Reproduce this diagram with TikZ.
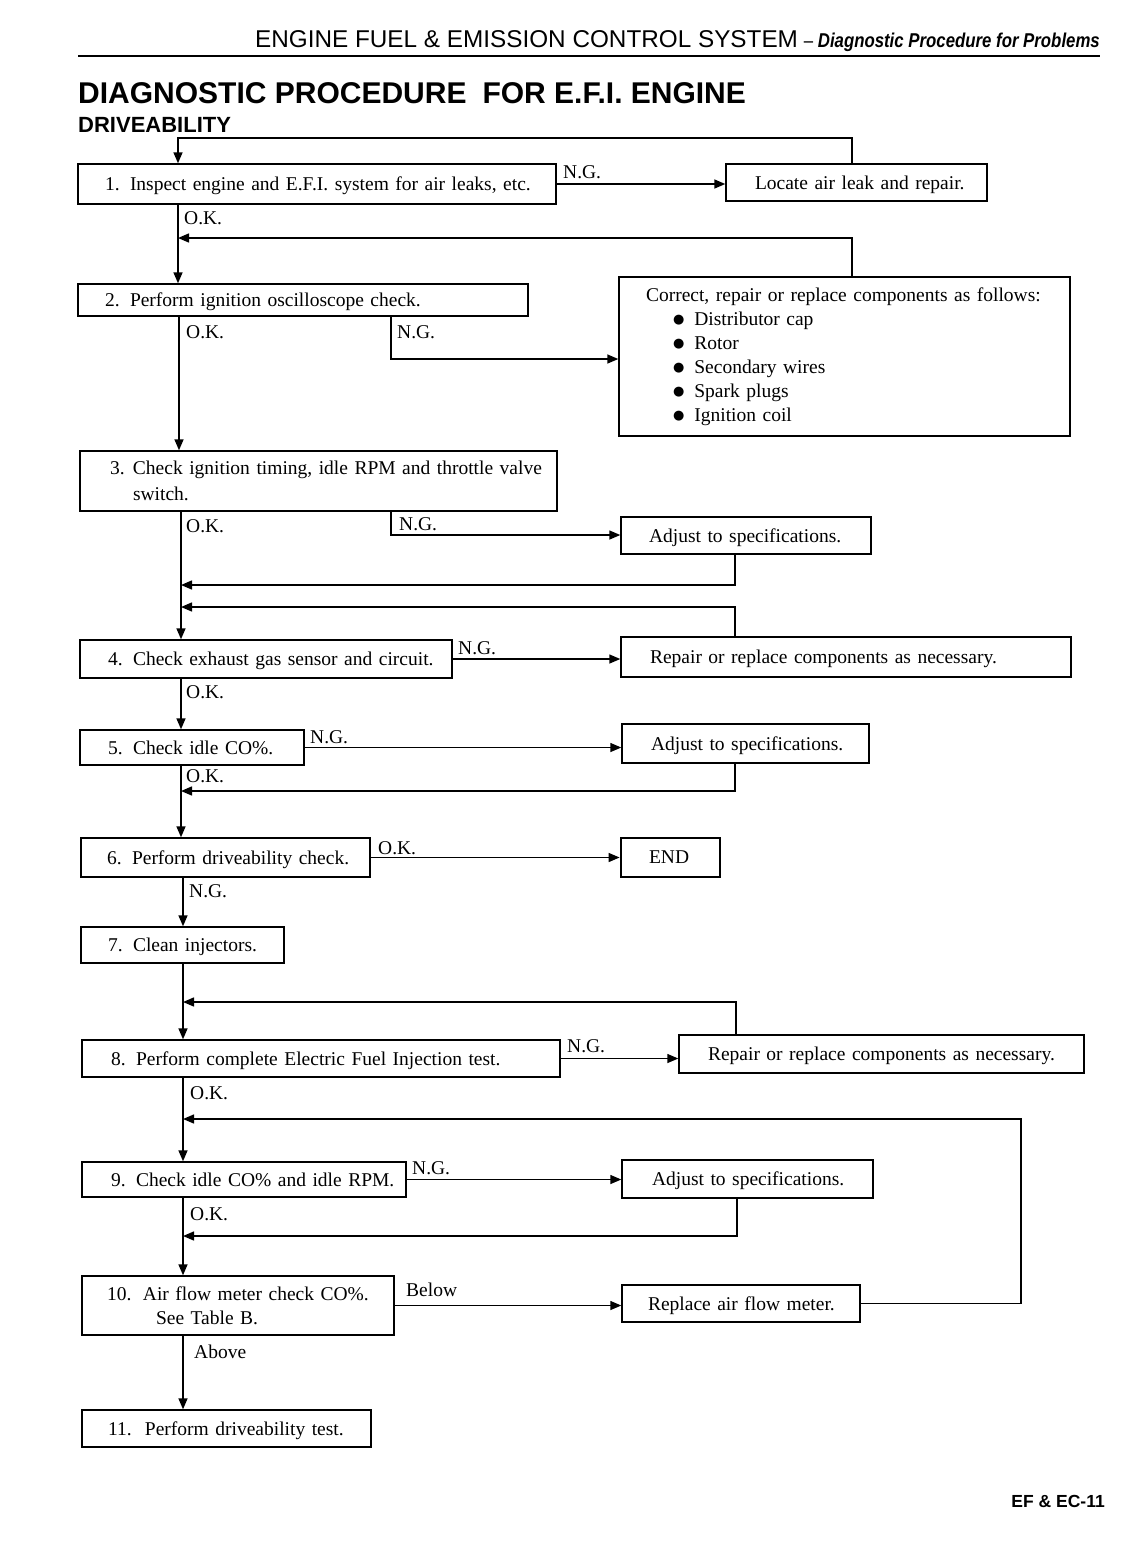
\documentclass[tikz,border=0pt]{standalone}
\usepackage{fontspec}
\setmainfont{Liberation Serif}
\newfontfamily\hsans{Liberation Sans}
\newfontfamily\djv{DejaVu Sans}
\usetikzlibrary{arrows.meta}
\newcommand\mybox[7][27]{%
  \pgfmathsetmacro\mbW{#5-#3}%
  \pgfmathsetmacro\mbH{#6-#4}%
  \pgfmathsetmacro\mbT{#5-#3-2*#1}%
  \node[box, minimum width=\mbW pt, minimum height=\mbH pt, text width=\mbT pt] (#2) at ({(#3+#5)/2},{(#4+#6)/2}) {#7};}
\newcommand\blt{\hspace*{27pt}\raisebox{1.5pt}{\djv\fontsize{13}{24}\selectfont ●}\hspace{10pt}}
\newcommand\num[2][25pt]{\makebox[#1][l]{#2}}
\begin{document}
\begin{tikzpicture}[x=1pt,y=-1pt,
  boxextra/.style={},
  box/.style={draw, line width=1.4pt, inner xsep=0pt, inner ysep=1pt, align=left,
    text depth=0pt, font=\fontsize{19.5}{25}\selectfont, boxextra},
  multi/.style={box/.append style={text depth=, font=\fontsize{19.5}{24}\selectfont}},
  lbl/.style={anchor=west, inner sep=0pt, font=\fontsize{19.5}{24}\selectfont},
  arr/.style={line width=1.4pt, -{Triangle[length=11pt,width=9pt]}}]
\useasboundingbox (0,0) rectangle (1147,1553);
% header
\node[anchor=base west, inner sep=0pt, font=\hsans\fontsize{24.3}{24}\selectfont] (hdr) at (255,47) {ENGINE FUEL \& EMISSION CONTROL SYSTEM};
\node[anchor=base east, inner sep=0pt, font=\hsans\fontsize{20}{20}\selectfont\bfseries\itshape] (hdr2) at (1100,47) {\scalebox{0.84}[1]{{\upshape\mdseries\textendash}\ Diagnostic Procedure for Problems}};
\draw[line width=2pt] (78,56) -- (1100,56);
\node[anchor=base west, inner sep=0pt, font=\hsans\bfseries\fontsize{30}{30}\selectfont] (ttl) at (78,103) {DIAGNOSTIC PROCEDURE\hspace{16pt}FOR E.F.I. ENGINE};
\node[anchor=base west, inner sep=0pt, font=\hsans\bfseries\fontsize{22}{22}\selectfont] (sub) at (78,132) {DRIVEABILITY};
\node[anchor=base east, inner sep=0pt, font=\hsans\bfseries\fontsize{17.5}{18}\selectfont] (foot) at (1105,1507) {EF \& EC-11};
% boxes
\mybox[27]{b1}{78}{164}{556}{204}{\mbox{\num{1.}Inspect engine and E.F.I. system for air leaks, etc.}}
\mybox[29]{loc}{726}{164}{987}{201}{\mbox{Locate air leak and repair.}}
\mybox[27]{b2}{78}{284}{528}{316}{\mbox{\num{2.}Perform ignition oscilloscope check.}}
\begin{scope}[multi]
\mybox[27]{cor}{619}{277}{1070}{436}{\mbox{Correct, repair or replace components as follows:}\\
\mbox{\blt Distributor cap}\\ \mbox{\blt Rotor}\\ \mbox{\blt Secondary wires}\\ \mbox{\blt Spark plugs}\\ \mbox{\blt Ignition coil}}
\mybox[30]{b3}{80}{451}{557}{511}{\mbox{\num[23pt]{3.}Check ignition timing, idle RPM and throttle valve}\\[2pt]\mbox{\hspace*{23pt}switch.}}
\end{scope}
\mybox[28]{adj1}{621}{517}{871}{554}{\mbox{Adjust to specifications.}}
\mybox[28]{b4}{80}{640}{452}{678}{\mbox{\num{4.}Check exhaust gas sensor and circuit.}}
\mybox[29]{rep1}{621}{637}{1071}{677}{\mbox{Repair or replace components as necessary.}}
\mybox[28]{b5}{80}{730}{304}{765}{\mbox{\num{5.}Check idle CO\%.}}
\mybox[29]{adj2}{622}{724}{869}{763}{\mbox{Adjust to specifications.}}
\mybox[26]{b6}{81}{838}{370}{877}{\mbox{\num{6.}Perform driveability check.}}
\begin{scope}[boxextra/.style={line width=2.8pt}]
\mybox[28]{endn}{621}{838}{720}{877}{\mbox{END}}
\end{scope}
\mybox[27]{b7}{81}{927}{284}{963}{\mbox{\num{7.}Clean injectors.}}
\mybox[29]{b8}{82}{1040}{560}{1077}{\mbox{\num{8.}Perform complete Electric Fuel Injection test.}}
\mybox[29]{rep2}{679}{1035}{1084}{1073}{\mbox{Repair or replace components as necessary.}}
\mybox[29]{b9}{82}{1162}{406}{1197}{\mbox{\num{9.}Check idle CO\% and idle RPM.}}
\mybox[30]{adj3}{622}{1160}{873}{1198}{\mbox{Adjust to specifications.}}
\begin{scope}[multi]
\mybox[25]{b10}{82}{1276}{394}{1335}{\mbox{\num[36pt]{10.}Air flow meter check CO\%.}\\\mbox{\hspace*{49pt}See Table B.}}
\end{scope}
\mybox[26]{rep3}{622}{1285}{860}{1322}{\mbox{Replace air flow meter.}}
\mybox[26]{b11}{82}{1410}{371}{1447}{\mbox{\num[37pt]{11.}Perform driveability test.}}
% connectors
\coordinate (tl) at (178,138); \coordinate (tr) at (852,138);
\draw[arr] (loc.north -| tr) -- (tr) -- (tl) -- (b1.north -| tl);
\draw[arr] (b1.east) -- (b1.east -| loc.west);
\draw[arr] (b1.south -| tl) -- (b2.north -| tl);
\coordinate (j1) at (178,238); \coordinate (j1r) at (852,238);
\draw[arr] (cor.north -| j1r) -- (j1r) -- (j1);
\coordinate (s2) at (179,0);
\draw[arr] (b2.south -| s2) -- (b3.north -| s2);
\coordinate (n2) at (391,359);
\draw[arr] (b2.south -| n2) -- (n2) -- (n2 -| cor.west);
\coordinate (s3) at (181,0);
\draw[arr] (b3.south -| s3) -- (b4.north -| s3);
\coordinate (n3) at (391,535);
\draw[arr] (b3.south -| n3) -- (n3) -- (n3 -| adj1.west);
\coordinate (r3) at (735,585);
\draw[arr] (adj1.south -| r3) -- (r3) -- (r3 -| s3);
\coordinate (r4) at (735,607);
\draw[arr] (rep1.north -| r4) -- (r4) -- (r4 -| s3);
\draw[arr] (b4.east) -- (b4.east -| rep1.west);
\draw[arr] (b4.south -| s3) -- (b5.north -| s3);
\draw[arr] (b5.east) -- (b5.east -| adj2.west);
\coordinate (r5) at (735,791);
\draw[arr] (adj2.south -| r5) -- (r5) -- (r5 -| s3);
\draw[arr] (b5.south -| s3) -- (b6.north -| s3);
\draw[arr] (b6.east) -- (b6.east -| endn.west);
\coordinate (s4) at (183,0);
\draw[arr] (b6.south -| s4) -- (b7.north -| s4);
\draw[arr] (b7.south -| s4) -- (b8.north -| s4);
\coordinate (r7) at (736,1002);
\draw[arr] (rep2.north -| r7) -- (r7) -- (r7 -| s4);
\draw[arr] (b8.east) -- (b8.east -| rep2.west);
\draw[arr] (b8.south -| s4) -- (b9.north -| s4);
\coordinate (r8) at (1021,1119);
\draw[arr] (rep3.east) -- (rep3.east -| r8) -- (r8) -- (r8 -| s4);
\draw[arr] (b9.east) -- (b9.east -| adj3.west);
\coordinate (r9) at (737,1236);
\draw[arr] (adj3.south -| r9) -- (r9) -- (r9 -| s4);
\draw[arr] (b9.south -| s4) -- (b10.north -| s4);
\draw[arr] (b10.east) -- (b10.east -| rep3.west);
\draw[arr] (b10.south -| s4) -- (b11.north -| s4);
% labels
\node[lbl] (l1n) at (563,172) {N.G.};
\node[lbl] (l1o) at (184,218) {O.K.};
\node[lbl] (l2o) at (186,332) {O.K.};
\node[lbl] (l2n) at (397,332) {N.G.};
\node[lbl] (l3o) at (186,526) {O.K.};
\node[lbl] (l3n) at (399,524) {N.G.};
\node[lbl] (l4n) at (458,648) {N.G.};
\node[lbl] (l4o) at (186,692) {O.K.};
\node[lbl] (l5n) at (310,737) {N.G.};
\node[lbl] (l5o) at (186,776) {O.K.};
\node[lbl] (l6o) at (378,848) {O.K.};
\node[lbl] (l6n) at (189,891) {N.G.};
\node[lbl] (l8n) at (567,1046) {N.G.};
\node[lbl] (l8o) at (190,1093) {O.K.};
\node[lbl] (l9n) at (412,1168) {N.G.};
\node[lbl] (l9o) at (190,1214) {O.K.};
\node[lbl] (l10b) at (406,1290) {Below};
\node[lbl] (l10a) at (194,1352) {Above};
\end{tikzpicture}
\end{document}
